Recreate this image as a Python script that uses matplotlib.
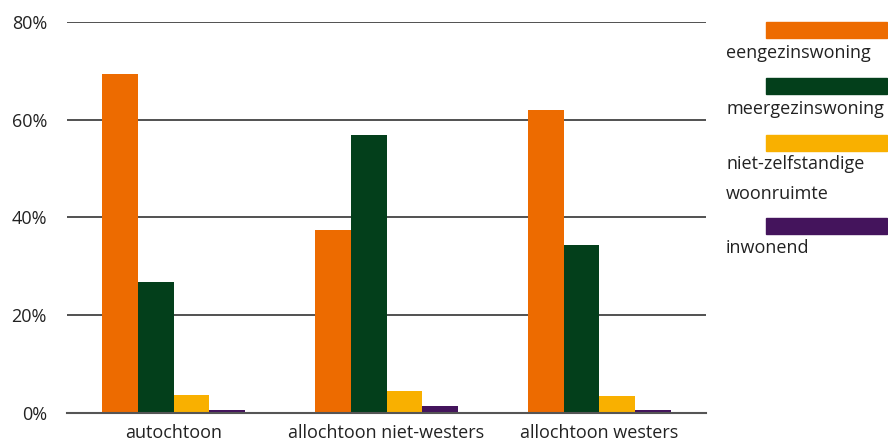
import numpy as np
import matplotlib.pyplot as plt
from matplotlib.patches import Rectangle

# data
categories = ['autochtoon', 'allochtoon niet-westers', 'allochtoon westers']
series = ['eengezinswoning', 'meergezinswoning', 'niet-zelfstandige\nwoonruimte', 'inwonend']
eengezins = [69.3, 37.4, 62.0]
meergezins = [26.8, 56.9, 34.3]
niet_zelfst = [3.6, 4.4, 3.4]
inwonend = [0.55, 1.4, 0.55]
colors = ['#ED6B00', '#033F1B', '#F9B000', '#44145C']

plt.rcParams['font.family'] = ['Open Sans', 'DejaVu Sans']

fig = plt.figure(figsize=(8.88, 4.44), dpi=100)
ax = fig.add_axes([0.0755, 0.0705, 0.7195, 0.88])

x = np.arange(len(categories))
w = 0.168
values = [eengezins, meergezins, niet_zelfst, inwonend]
for i, (vals, c) in enumerate(zip(values, colors)):
    ax.bar(x + (i - 1.5) * w, vals, width=w, color=c, zorder=3)

ax.set_xlim(-0.5, 2.5)
ax.set_ylim(0, 80)
ax.set_yticks([0, 20, 40, 60, 80])
ax.set_yticklabels(['0%', '20%', '40%', '60%', '80%'], fontsize=13, color='#222222')
ax.set_xticks(x)
ax.set_xticklabels(categories, fontsize=13, color='#222222')
ax.tick_params(axis='y', length=0, pad=14.5)
ax.tick_params(axis='x', length=0, pad=8)
ax.grid(axis='y', color='#222222', linewidth=1.1, zorder=1)
for s in ['top', 'right', 'left']:
    ax.spines[s].set_visible(False)
ax.spines['bottom'].set_color('#555555')
ax.spines['bottom'].set_linewidth(1.5)
ax.spines['bottom'].set_zorder(4)

# legend (handmatig)
patch_tops = [22, 78, 135, 218]
text_y = [53, 109, 179, 248]
for top, ty, c, lab in zip(patch_tops, text_y, colors, series):
    fig.add_artist(Rectangle((766 / 888, 1 - (top + 16) / 444), 121 / 888, 16 / 444,
                             transform=fig.transFigure, color=c))
    fig.text(726 / 888, 1 - ty / 444, lab, fontsize=13, color='#222222',
             va='center', ha='left', linespacing=1.85)

fig.savefig('out.png', dpi=100)
